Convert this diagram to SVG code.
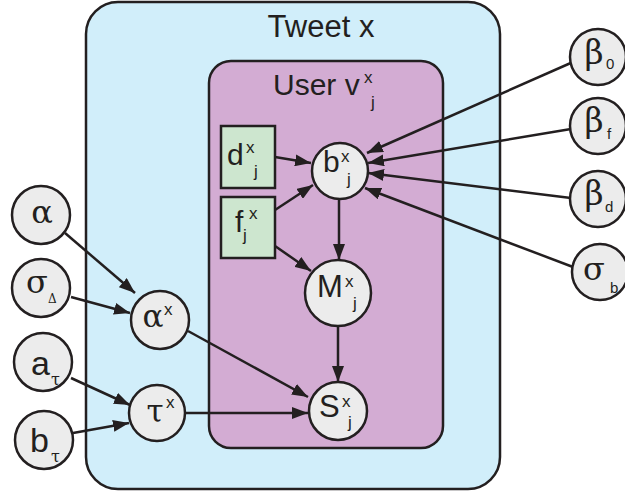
<svg xmlns="http://www.w3.org/2000/svg" width="625" height="491" viewBox="0 0 625 491">
<defs>
<marker id="ah" markerUnits="userSpaceOnUse" markerWidth="17" markerHeight="12" refX="16" refY="6" orient="auto">
<path d="M0,0 L16,6 L0,12 z" fill="#231f20"/>
</marker>
<style>
.plate{stroke:#231f20;stroke-width:2.5}
.node{fill:#ececec;stroke:#231f20;stroke-width:2.5}
.obs{fill:#cde6cf;stroke:#231f20;stroke-width:2.5}
.edge{stroke:#231f20;stroke-width:2.5;fill:none;marker-end:url(#ah)}
text{fill:#231f20}
.s{font-family:"Liberation Sans",Arial,sans-serif}
.g{font-family:"DejaVu Serif","Liberation Serif",serif;text-anchor:middle}
.gs{font-family:"DejaVu Serif","Liberation Serif",serif}
.big{font-size:30px}
.sm{font-size:17px}
</style>
</defs>
<g id="plate-tweet">
<rect class="plate" x="86" y="2" width="414" height="487" rx="32" fill="#d1eefa"/>
<text class="s" x="321" y="37" font-size="31" text-anchor="middle">Tweet x</text>
</g>
<g id="plate-user">
<rect class="plate" x="209" y="61" width="234" height="387" rx="22" fill="#d3acd3"/>
<text class="s" x="273" y="95" font-size="30">User v</text>
<text class="s sm" x="364" y="83">x</text>
<text class="s sm" x="371" y="108">j</text>
</g>
<g id="connectors">
<line class="edge" x1="65" y1="233" x2="135" y2="293"/>
<line class="edge" x1="71" y1="297" x2="130" y2="313"/>
<line class="edge" x1="71" y1="378" x2="130" y2="405"/>
<line class="edge" x1="73" y1="433" x2="129" y2="423"/>
<line class="edge" x1="188" y1="331" x2="308" y2="397"/>
<line class="edge" x1="186" y1="413" x2="308" y2="413"/>
<line class="edge" x1="338" y1="327" x2="338" y2="382"/>
<line class="edge" x1="339" y1="199" x2="339" y2="260"/>
<line class="edge" x1="275" y1="157" x2="311" y2="163"/>
<line class="edge" x1="275" y1="210" x2="313" y2="185"/>
<line class="edge" x1="275" y1="246" x2="311" y2="271"/>
<line class="edge" x1="573" y1="62" x2="367" y2="153"/>
<line class="edge" x1="571" y1="129" x2="368" y2="163"/>
<line class="edge" x1="571" y1="198" x2="368" y2="173"/>
<line class="edge" x1="573" y1="267" x2="365" y2="188"/>
</g>
<g id="node-d">
<rect class="obs" x="221" y="126" width="54" height="62"/>
<text class="s big" x="227" y="165">d</text>
<text class="s sm" x="246" y="153">x</text>
<text class="s sm" x="254" y="177">j</text>
</g>
<g id="node-f">
<rect class="obs" x="221" y="197" width="54" height="61"/>
<text class="s big" x="235" y="232">f</text>
<text class="s sm" x="249" y="219">x</text>
<text class="s sm" x="243" y="241">j</text>
</g>
<g id="node-b">
<circle class="node" cx="340" cy="171" r="28"/>
<text class="s big" x="323" y="172">b</text>
<text class="s sm" x="341" y="162">x</text>
<text class="s sm" x="347" y="185">j</text>
</g>
<g id="node-M">
<circle class="node" cx="338" cy="293" r="33"/>
<text class="s" font-size="31" x="317" y="297">M</text>
<text class="s sm" x="345" y="287">x</text>
<text class="s sm" x="353" y="309">j</text>
</g>
<g id="node-S">
<circle class="node" cx="338" cy="411" r="29"/>
<text class="s" font-size="31" x="319" y="417">S</text>
<text class="s sm" x="342" y="407">x</text>
<text class="s sm" x="348" y="428">j</text>
</g>
<g id="node-alpha">
<circle class="node" cx="41" cy="215" r="29"/>
<text class="g" font-size="32" x="42" y="223">α</text>
</g>
<g id="node-sigmaDelta">
<circle class="node" cx="41" cy="288" r="29"/>
<text class="g" font-size="32" x="37" y="293">σ</text>
<text class="gs" font-size="12" x="48" y="303">Δ</text>
</g>
<g id="node-atau">
<circle class="node" cx="43" cy="362" r="29"/>
<text class="s" font-size="34" x="31" y="375">a</text>
<text class="gs" font-size="16" x="51" y="385">τ</text>
</g>
<g id="node-btau">
<circle class="node" cx="44" cy="440" r="29"/>
<text class="s" font-size="34" x="30" y="452">b</text>
<text class="gs" font-size="16" x="51" y="462">τ</text>
</g>
<g id="node-alphax">
<circle class="node" cx="160" cy="320" r="29"/>
<text class="g" font-size="31" x="153" y="327">α</text>
<text class="s sm" x="164" y="315">x</text>
</g>
<g id="node-taux">
<circle class="node" cx="157" cy="413" r="28"/>
<text class="g" font-size="31" x="155" y="422">τ</text>
<text class="s sm" x="166" y="408">x</text>
</g>
<g id="node-beta0">
<circle class="node" cx="598" cy="57" r="28"/>
<text class="g" font-size="33" x="594" y="64">β</text>
<text class="s" font-size="15" x="606" y="69">0</text>
</g>
<g id="node-betaf">
<circle class="node" cx="598" cy="126" r="28"/>
<text class="g" font-size="33" x="594" y="132">β</text>
<text class="s" font-size="15" x="607" y="139">f</text>
</g>
<g id="node-betad">
<circle class="node" cx="598" cy="199" r="28"/>
<text class="g" font-size="33" x="594" y="205">β</text>
<text class="s" font-size="15" x="605" y="212">d</text>
</g>
<g id="node-sigmab">
<circle class="node" cx="600" cy="272" r="28"/>
<text class="g" font-size="32" x="594" y="280">σ</text>
<text class="s" font-size="15" x="610" y="293">b</text>
</g>
</svg>
